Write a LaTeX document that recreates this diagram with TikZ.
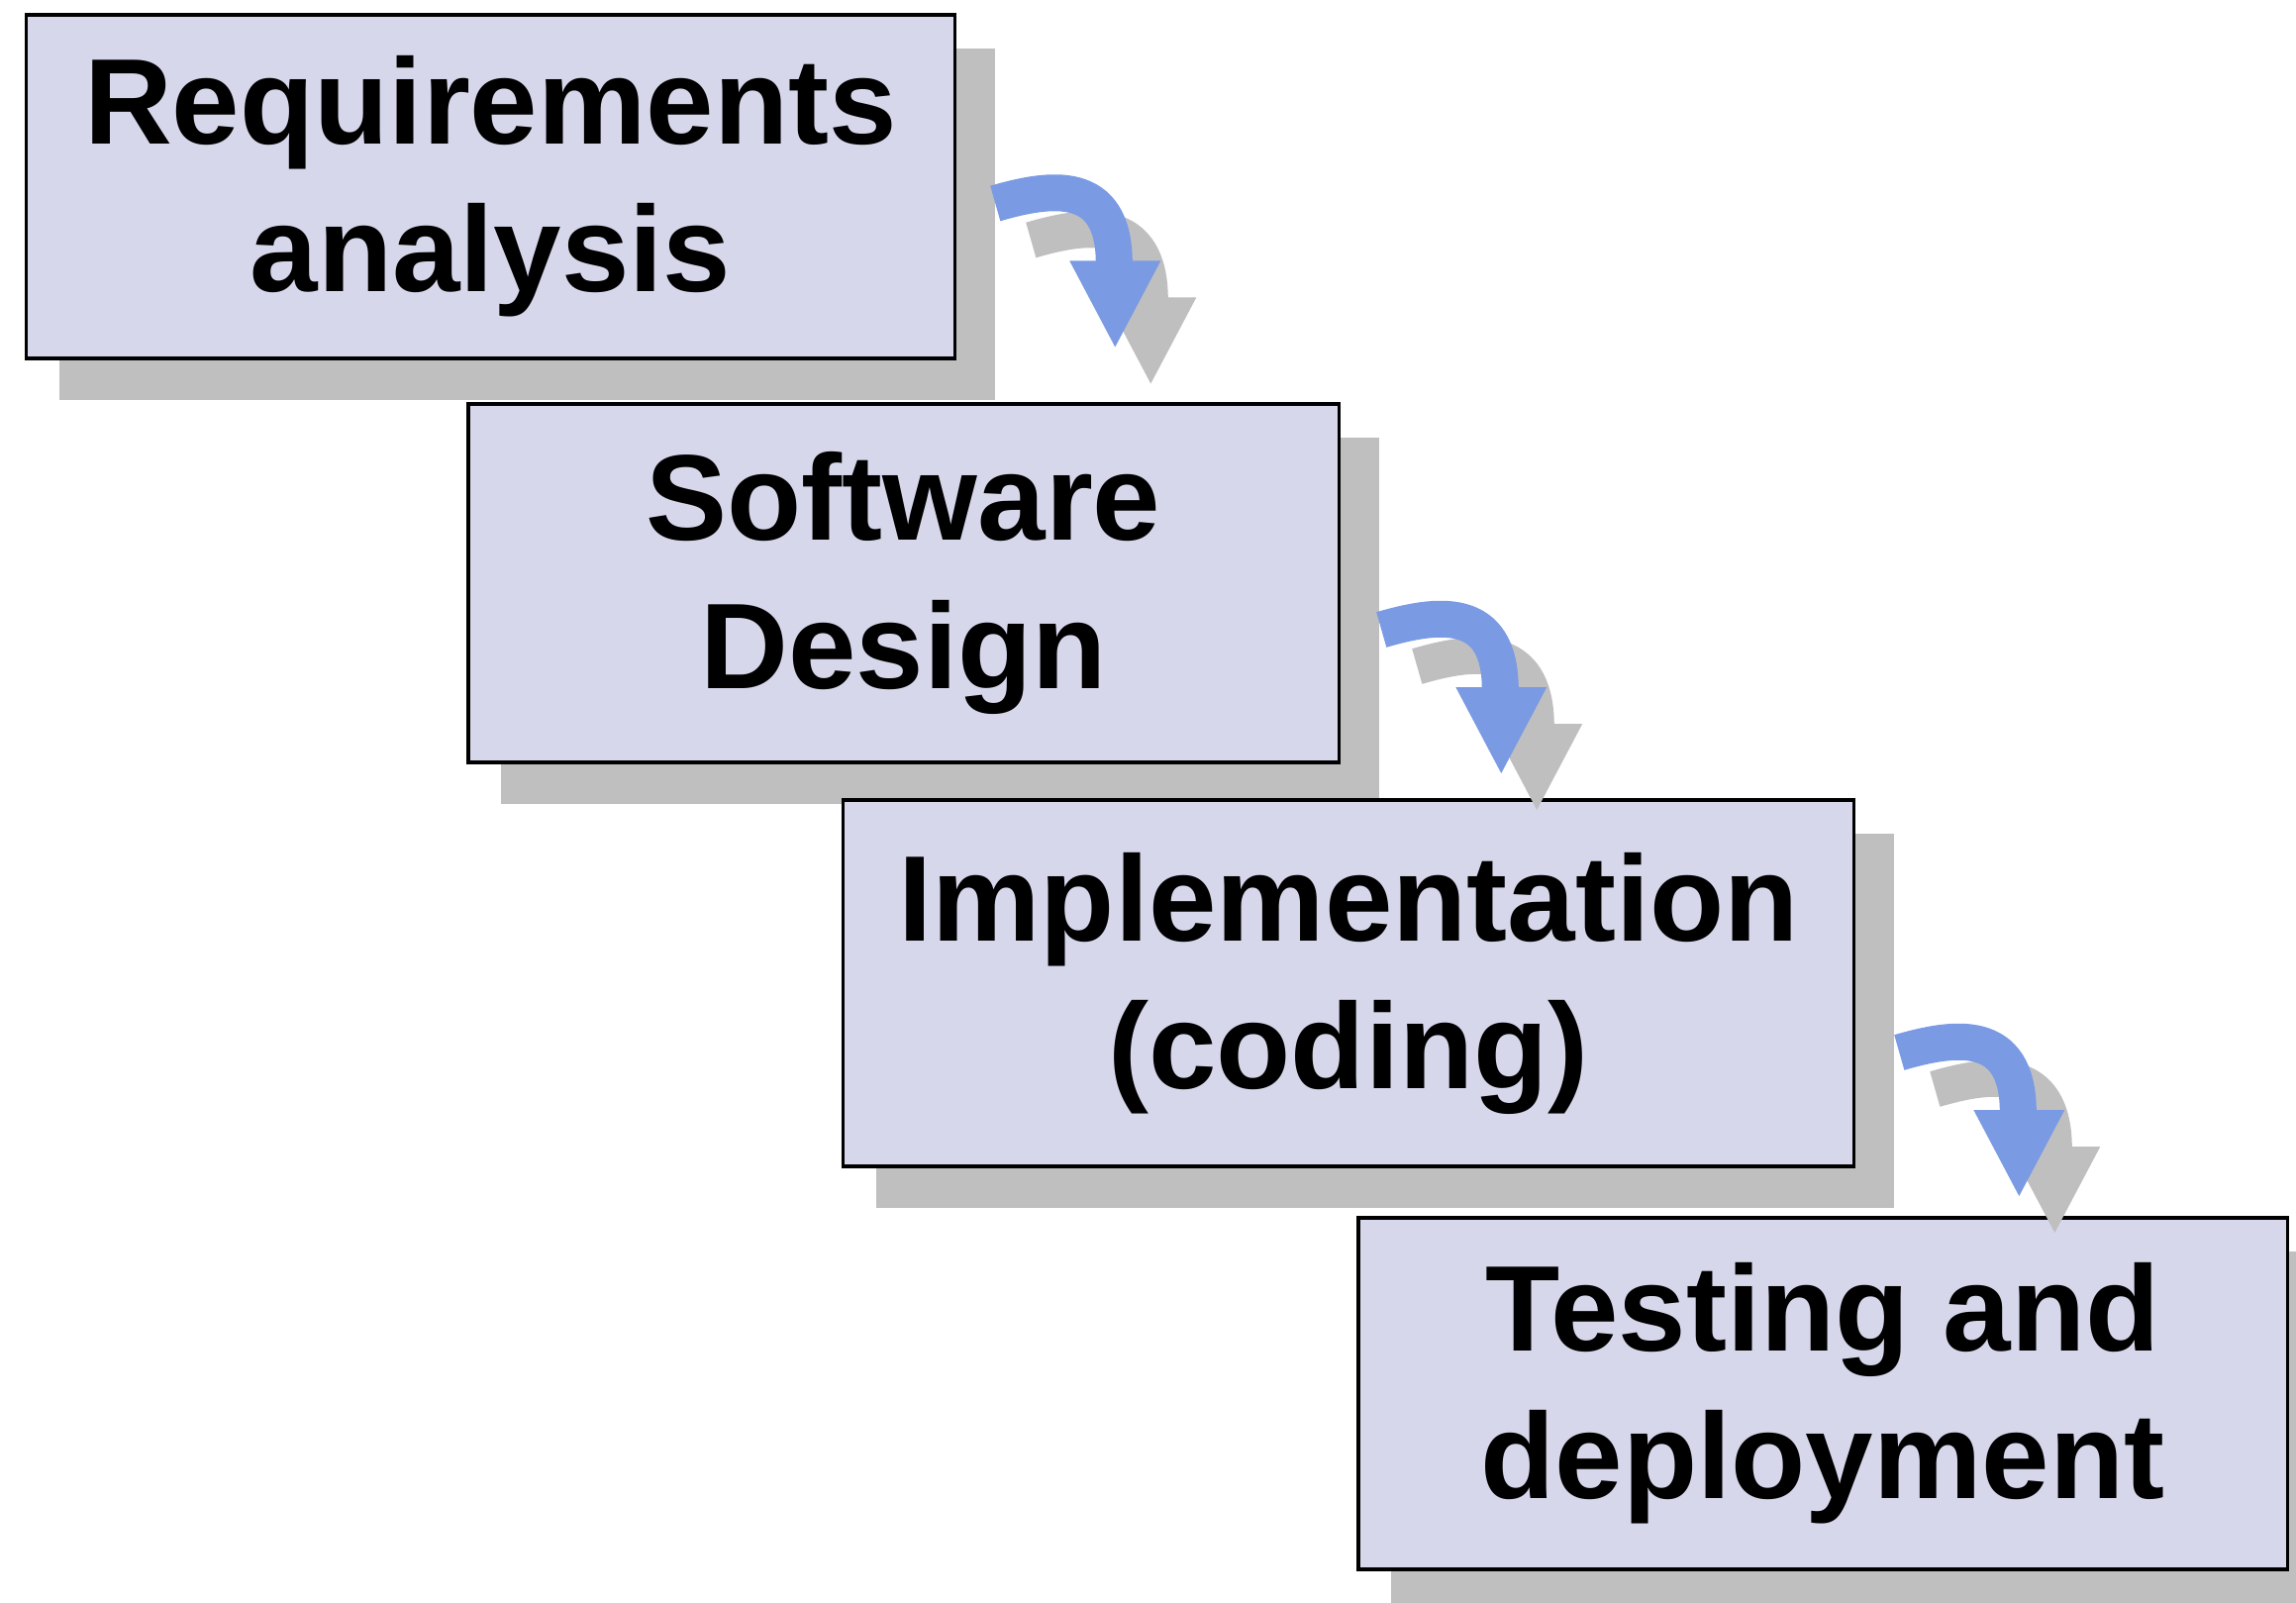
\documentclass[tikz,border=0pt]{standalone}
\usepackage{fontspec}
\setmainfont{Liberation Sans}
\usetikzlibrary{calc,backgrounds}

\definecolor{boxfill}{HTML}{D6D7EB}
\definecolor{shadowgray}{HTML}{BFBFBF}
\definecolor{arrowblue}{HTML}{7A9AE3}

\tikzset{
  phase/.style={draw=black, line width=0.035cm, fill=boxfill, outer sep=0pt,
    inner sep=0pt, align=center,
    font=\fontsize{35}{42.4}\selectfont\bfseries},
  boxshadow/.style={fill=shadowgray},
  % curved step arrow, origin at the tail centre
  steparrow/.pic={
    \draw[line width=0.37cm, line cap=butt, draw=#1]
      (0,0) .. controls (55,-16) and (120,-26) .. (120,60);
    \fill[#1] (75,58) -- (167,58) -- (121,145) -- cycle;
  },
}

\begin{document}
\begin{tikzpicture}[x=0.01cm, y=-0.01cm]
  \useasboundingbox (0,0) rectangle (2319,1619);

  % the four phases of the waterfall
  \node[phase, minimum width=9.37cm, minimum height=3.47cm] (req) at (495.5,188.5)
    {Requirements\\analysis};
  \node[phase, minimum width=8.79cm, minimum height=3.62cm] (des) at (912.5,589)
    {Software\\Design};
  \node[phase, minimum width=10.20cm, minimum height=3.70cm] (imp) at (1362,993)
    {Implementation\\(coding)};
  \node[phase, minimum width=9.38cm, minimum height=3.55cm] (tst) at (1841,1407.5)
    {Testing and\\deployment};

  % drop shadows behind the boxes
  \begin{scope}[on background layer]
    \foreach \n in {req,des,imp,tst}
      \fill[boxshadow] ($(\n.north west)+(33,34)$) rectangle ($(\n.south east)+(41,42)$);
  \end{scope}

  % arrow tails between consecutive phases
  \coordinate (a1) at ($(req.east)+(41,17)$);
  \coordinate (a2) at ($(des.east)+(43,47)$);
  \coordinate (a3) at ($(imp.east)+(46,70)$);

  \foreach \a in {a1,a2,a3}
    \pic at ($(\a)+(36,37)$) {steparrow=shadowgray};
  \foreach \a in {a1,a2,a3}
    \pic at (\a) {steparrow=arrowblue};
\end{tikzpicture}
\end{document}
